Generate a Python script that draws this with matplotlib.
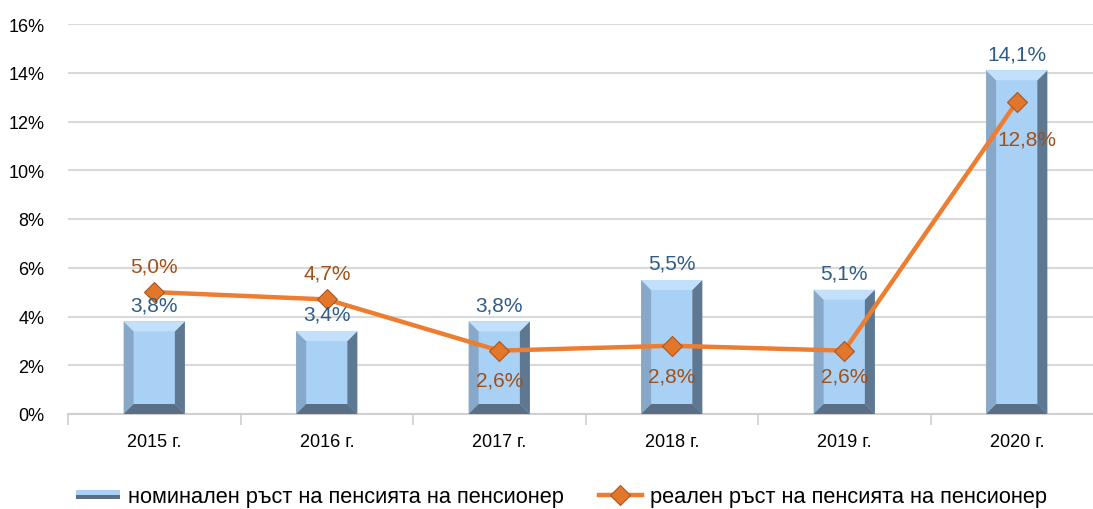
import matplotlib
matplotlib.use('Agg')
import matplotlib.pyplot as plt
from matplotlib.patches import Polygon, Rectangle
from matplotlib.lines import Line2D
from matplotlib.legend_handler import HandlerBase
import numpy as np

years = ['2015 г.', '2016 г.', '2017 г.', '2018 г.', '2019 г.', '2020 г.']
nominal = [3.8, 3.4, 3.8, 5.5, 5.1, 14.1]
real = [5.0, 4.7, 2.6, 2.8, 2.6, 12.8]
nominal_name = 'номинален ръст на пенсията на пенсионер'
real_name = 'реален ръст на пенсията на пенсионер'
yticks = [0, 2, 4, 6, 8, 10, 12, 14, 16]

# where each line label goes relative to its point (points)
real_offsets = [(0, 19), (0, 19), (0, -21), (0, -22), (0, -18), (7, -27)]

face = '#a9d0f5'
top_c = '#c2e0fb'
left_c = '#87a8c9'
right_c = '#5e7892'
bot_c = '#5a6f86'
orange = '#ed7d31'
blue_txt = '#2f5c86'
brown_txt = '#a14f17'

plt.rcParams['font.family'] = ['Liberation Sans', 'DejaVu Sans']

fig = plt.figure(figsize=(10.93, 5.10), dpi=100)
ax = fig.add_axes([68 / 1093, 95 / 510, 1035 / 1093, 390 / 510])

x = np.arange(len(years))
w = 0.355
bx = 10 / 172.5      # bevel in data units (x)
by = 10 / 24.4       # bevel in data units (y)

bars = ax.bar(x, nominal, width=w, color=face, zorder=2, linewidth=0)
for xi, v in zip(x, nominal):
    l, r = xi - w / 2, xi + w / 2
    ax.add_patch(Polygon([(l, 0), (l + bx, by), (l + bx, v - by), (l, v)], closed=True, fc=left_c, lw=0, zorder=3))
    ax.add_patch(Polygon([(r, 0), (r - bx, by), (r - bx, v - by), (r, v)], closed=True, fc=right_c, lw=0, zorder=3))
    ax.add_patch(Polygon([(l, v), (l + bx, v - by), (r - bx, v - by), (r, v)], closed=True, fc=top_c, lw=0, zorder=3))
    ax.add_patch(Polygon([(l, 0), (l + bx, by), (r - bx, by), (r, 0)], closed=True, fc=bot_c, lw=0, zorder=3))
    ax.annotate(f'{v:.1f}%'.replace('.', ','), (xi, v), xytext=(0, 12), textcoords='offset points',
                ha='center', va='center', fontsize=15, color=blue_txt, zorder=5)

ax.plot(x, real, color=orange, lw=3.2, marker='D', ms=10, mfc='#e2772c', mec='#a9561f', mew=0.8, zorder=4)
for xi, v, off in zip(x, real, real_offsets):
    ax.annotate(f'{v:.1f}%'.replace('.', ','), (xi, v), xytext=off, textcoords='offset points',
                ha='center', va='center', fontsize=15, color=brown_txt, zorder=5)

ax.set_xlim(-0.5, len(years) - 0.5)
ax.set_ylim(0, 16)
ax.set_yticks(yticks)
ax.set_yticklabels([f'{t}%' for t in yticks])
ax.tick_params(axis='y', length=0, pad=17, labelsize=13)
ax.yaxis.grid(True, color='#d9d9d9', lw=1.5)
ax.set_axisbelow(True)

ax.set_xticks(np.arange(-0.5, len(years), 1))
ax.set_xticklabels([])
ax.set_xticks(x, minor=True)
ax.set_xticklabels(years, minor=True)
ax.tick_params(axis='x', which='major', length=8, color='#d0d0d0', width=1.2)
ax.tick_params(axis='x', which='minor', length=0, pad=14, labelsize=13)

for s in ['top', 'right', 'left']:
    ax.spines[s].set_visible(False)
ax.spines['bottom'].set_color('#d0d0d0')
ax.spines['bottom'].set_linewidth(1.5)


class BarHandler(HandlerBase):
    def create_artists(self, legend, orig, xd, yd, width, height, fontsize, trans):
        h = height * 0.55
        y0 = yd + (height - h) / 2
        top = Rectangle((xd, y0 + h / 2), width, h / 2, fc=face, lw=0, transform=trans)
        bot = Rectangle((xd, y0), width, h / 2, fc=bot_c, lw=0, transform=trans)
        return [top, bot]


line_h = Line2D([], [], color=orange, lw=3.2, marker='D', ms=10, mfc='#e2772c', mec='#a9561f', mew=0.8)
fig.legend([bars, line_h], [nominal_name, real_name], loc='lower center', bbox_to_anchor=(0.514, -0.035),
           ncol=2, frameon=False, fontsize=15.7, handlelength=2.0, handletextpad=0.37, columnspacing=1.6,
           handler_map={type(bars): BarHandler()})

fig.savefig('out.png', dpi=100)
